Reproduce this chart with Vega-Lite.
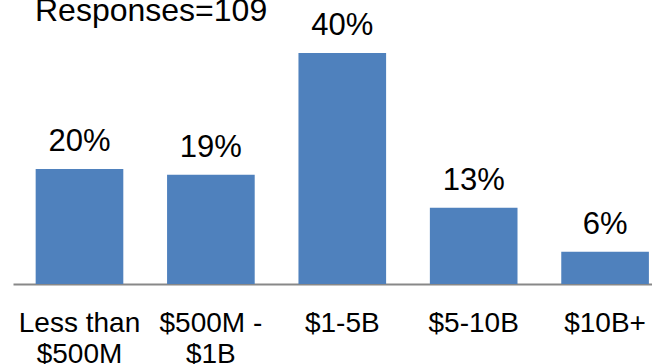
{
  "$schema": "https://vega.github.io/schema/vega-lite/v6.json",
  "autosize": {"type": "none"},
  "width": 639,
  "height": 231,
  "padding": {"left": 13, "top": 53, "right": 0, "bottom": 80},
  "background": "white",
  "config": {"view": {"stroke": null}, "font": "Liberation Sans"},
  "title": {
    "text": "Responses=109",
    "anchor": "start",
    "frame": "group",
    "dx": 22,
    "dy": 43,
    "fontSize": 32,
    "fontWeight": "normal",
    "color": "black",
    "font": "Liberation Sans",
    "baseline": "alphabetic",
    "offset": 0
  },
  "data": {
    "values": [
      {"size": "Less than\n$500M", "pct": 19.9, "label": "20%"},
      {"size": "$500M -\n$1B", "pct": 18.9, "label": "19%"},
      {"size": "$1-5B", "pct": 40, "label": "40%"},
      {"size": "$5-10B", "pct": 13.2, "label": "13%"},
      {"size": "$10B+", "pct": 5.6, "label": "6%"}
    ]
  },
  "encoding": {
    "x": {
      "field": "size",
      "type": "nominal",
      "sort": null,
      "scale": {"paddingInner": 0.333, "paddingOuter": 0.098, "align": 0.88},
      "axis": {
        "title": null,
        "labelAngle": 0,
        "labelExpr": "split(datum.label, '\\n')",
        "labelFontSize": 28,
        "labelLineHeight": 31,
        "labelColor": "black",
        "labelPadding": 25,
        "labelBaseline": "top",
        "ticks": false,
        "domainColor": "#888888",
        "domainWidth": 2,
        "labelFont": "Liberation Sans"
      }
    },
    "y": {
      "field": "pct",
      "type": "quantitative",
      "scale": {"domain": [0, 40], "nice": false, "zero": true},
      "axis": null
    }
  },
  "layer": [
    {"mark": {"type": "bar", "color": "#4F81BD"}},
    {
      "mark": {"type": "text", "baseline": "alphabetic", "dy": -18, "fontSize": 31, "color": "black", "font": "Liberation Sans"},
      "encoding": {"text": {"field": "label"}}
    }
  ]
}
